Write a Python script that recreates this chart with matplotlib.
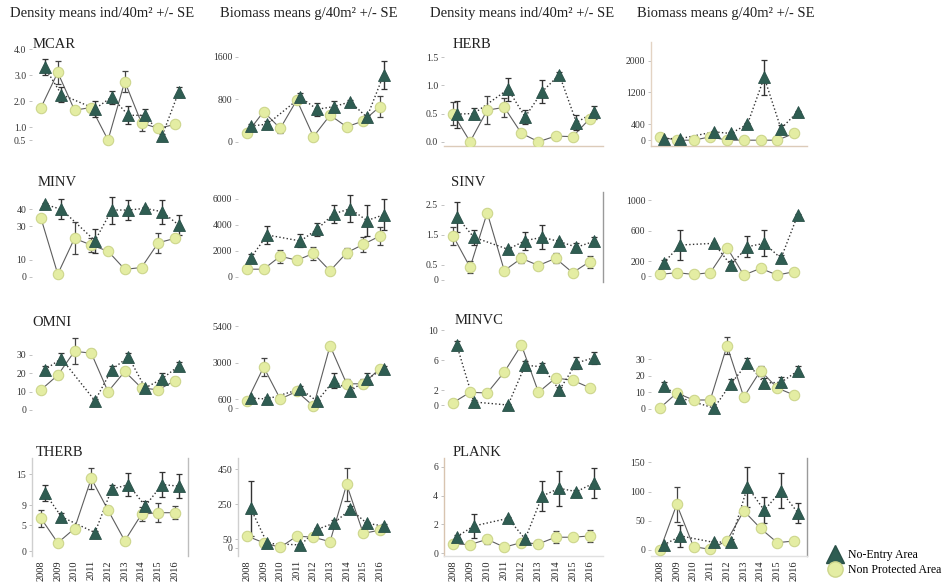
import matplotlib as mpl
import matplotlib.pyplot as plt
import numpy as np
from matplotlib.lines import Line2D

mpl.rcParams["font.family"] = ["Liberation Serif", "DejaVu Serif"]

nan = np.nan
years = [2008, 2009, 2010, 2011, 2012, 2013, 2014, 2015, 2016]

# ---- density (ind/40m2) and biomass (g/40m2), mean and SE per year ----
# NE = No-Entry Area, NP = Non Protected Area (no NE sampling in 2010)
mcar_d_ne = [3.3, 2.25, nan, 1.7, 2.15, 1.45, 1.45, 0.65, 2.35]
mcar_d_ne_se = [0.3, 0.3, nan, 0.3, 0.25, 0.35, 0.25, 0.1, 0.2]
mcar_d_np = [1.75, 3.1, 1.65, 1.75, 0.5, 2.75, 1.15, 0.95, 1.1]
mcar_d_np_se = [0.05, 0.45, 0.05, 0.1, 0.05, 0.4, 0.3, 0.05, 0.05]

mcar_b_ne = [295, 330, nan, 835, 610, 660, 750, 460, 1255]
mcar_b_ne_se = [40, 60, nan, 80, 120, 100, 30, 40, 270]
mcar_b_np = [160, 565, 250, 785, 95, 500, 280, 390, 660]
mcar_b_np_se = [30, 60, 80, 60, 20, 60, 30, 40, 200]

herb_d_ne = [0.49, 0.50, nan, 0.93, 0.44, 0.89, 1.19, 0.34, 0.52]
herb_d_ne_se = [0.24, 0.1, nan, 0.2, 0.13, 0.2, 0.05, 0.14, 0.12]
herb_d_np = [0.50, 0.0, 0.56, 0.61, 0.15, 0.0, 0.10, 0.09, 0.41]
herb_d_np_se = [0.2, 0.0, 0.25, 0.17, 0.03, 0.0, 0.03, 0.02, 0.05]

herb_b_ne = [40, 40, nan, 210, 170, 400, 1580, 290, 715]
herb_b_ne_se = [10, 10, nan, 30, 40, 30, 440, 100, 30]
herb_b_np = [85, 0, 0, 85, 0, 0, 0, 0, 170]
herb_b_np_se = [20, 0, 0, 20, 0, 0, 0, 0, 20]

minv_d_ne = [43, 40, nan, 21.4, 39.6, 39.6, 40.6, 38.6, 30.7]
minv_d_ne_se = [1, 6, nan, 7, 8, 6, 1, 7, 6]
minv_d_np = [34.7, 1.6, 22.8, 18.8, 15.2, 4.4, 5.5, 20.2, 22.8]
minv_d_np_se = [1, 1, 9.5, 4, 1, 1, 1, 6, 1]

minv_b_ne = [1470, 3230, nan, 2770, 3670, 4860, 5250, 4340, 4780]
minv_b_ne_se = [300, 700, nan, 500, 500, 700, 1050, 1200, 1200]
minv_b_np = [600, 600, 1600, 1290, 1810, 470, 1860, 2510, 3150]
minv_b_np_se = [100, 50, 500, 300, 500, 50, 400, 600, 700]

sinv_d_ne = [2.11, 1.42, nan, 1.02, 1.31, 1.42, 1.28, 1.09, 1.28]
sinv_d_ne_se = [0.5, 0.25, nan, 0.05, 0.3, 0.4, 0.05, 0.15, 0.15]
sinv_d_np = [1.47, 0.42, 2.24, 0.31, 0.72, 0.48, 0.72, 0.24, 0.61]
sinv_d_np_se = [0.3, 0.2, 0.0, 0.05, 0.17, 0.05, 0.17, 0.05, 0.2]

sinv_b_ne = [178, 410, nan, 432, 148, 388, 432, 235, 803]
sinv_b_ne_se = [40, 200, nan, 10, 50, 140, 170, 40, 10]
sinv_b_np = [25, 47, 25, 47, 375, 16, 104, 16, 60]
sinv_b_np_se = [5, 5, 5, 5, 10, 5, 10, 5, 5]

omni_d_ne = [22, 28, nan, 5, 22, 29, 12, 17, 24]
omni_d_ne_se = [2, 3, nan, 1, 2, 2, 1, 3, 2]
omni_d_np = [11, 19, 32, 31, 10, 21, 12, 11, 16]
omni_d_np_se = [1, 2, 7, 2, 1, 2, 2, 2, 2]

omni_b_ne = [660, 600, nan, 1250, 460, 1800, 1120, 1900, 2600]
omni_b_ne_se = [100, 100, nan, 200, 100, 500, 300, 400, 200]
omni_b_np = [460, 2700, 600, 1100, 130, 4100, 1600, 1600, 2600]
omni_b_np_se = [50, 600, 100, 200, 50, 200, 300, 300, 200]

minvc_d_ne = [8, 0.4, nan, 0, 5.3, 5.1, 2, 5.6, 6.3]
minvc_d_ne_se = [0.5, 0.3, nan, 0.1, 0.6, 0.5, 0.4, 0.8, 0.8]
minvc_d_np = [0.3, 1.7, 1.6, 4.4, 8, 1.7, 3.6, 3.3, 2.3]
minvc_d_np_se = [0.1, 0.3, 0.3, 0.5, 0.5, 0.3, 0.5, 0.5, 0.4]

minvc_b_ne = [14, 6.6, nan, 0.6, 15, 27.6, 15.6, 16, 22.8]
minvc_b_ne_se = [2, 2, nan, 0.5, 3, 3, 3, 3, 3]
minvc_b_np = [0.6, 9.6, 5.4, 5.4, 38, 7.2, 23, 12.6, 8.4]
minvc_b_np_se = [0.5, 2, 1, 1, 5, 2, 3, 2, 2]

therb_d_ne = [11.4, 6.7, nan, 3.6, 12.1, 13.0, 8.8, 13.0, 12.7]
therb_d_ne_se = [1.6, 0.8, nan, 0.3, 0.8, 2.3, 1.0, 2.4, 2.3]
therb_d_np = [6.4, 1.6, 4.4, 14.2, 8.0, 2.0, 7.2, 7.5, 7.5]
therb_d_np_se = [1.6, 0.2, 0.2, 2.0, 0.8, 0.5, 1.4, 1.8, 1.3]

therb_b_ne = [225, 25, nan, 16, 105, 140, 220, 140, 124]
therb_b_ne_se = [155, 10, nan, 5, 10, 20, 20, 10, 10]
therb_b_np = [67, 29, 2, 67, 60, 35, 362, 82, 101]
therb_b_np_se = [5, 5, 2, 5, 5, 5, 96, 5, 5]

plank_d_ne = [1.15, 1.89, nan, 2.42, 0.99, 3.97, 4.5, 4.27, 4.85]
plank_d_ne_se = [0.1, 0.83, nan, 0.1, 0.1, 1.04, 1.2, 0.1, 1.05]
plank_d_np = [0.65, 0.6, 0.97, 0.42, 0.74, 0.65, 1.11, 1.11, 1.2]
plank_d_np_se = [0.05, 0.05, 0.3, 0.05, 0.1, 0.3, 0.4, 0.1, 0.4]

plank_b_ne = [8.6, 24, nan, 13, 14.3, 108, 68, 101, 64]
plank_b_ne_se = [2, 19, nan, 2, 5, 34, 22, 30, 17]
plank_b_np = [0, 78, 5.7, 1.1, 16, 67, 37, 12.5, 15.4]
plank_b_np_se = [0, 30, 1, 0.5, 2, 3, 3, 2, 2]

col_titles = ["Density means ind/40m² +/- SE", "Biomass means g/40m² +/- SE",
              "Density means ind/40m² +/- SE", "Biomass means g/40m² +/- SE"]

NE_FILL = "#2f5d52"
NP_FILL = "#e4eda3"

W, H = 952, 583
fig = plt.figure(figsize=(W / 100, H / 100), dpi=100)

# panel frames in pixels: columns (left, width), rows (top, bottom)
cols = [(31.8, 155.8), (237.9, 154.4), (443.6, 159.0), (650.8, 155.8)]
rows = [(42, 146), (192, 282), (322, 414), (458, 556)]


def add_panel(r, c):
    left, width = cols[c]
    top, bottom = rows[r]
    return fig.add_axes([left / W, 1 - bottom / H, width / W, (bottom - top) / H])


def draw(ax, ne, ne_se, npa, np_se, ylim, ticks, labels):
    x = np.array(years, float)
    ne = np.array(ne, float)
    ne_se = np.array(ne_se, float)
    m = ~np.isnan(ne)
    xe = x[m] + 0.22
    ax.plot(x, npa, "-", color="#5e5e5e", lw=0.8, zorder=1)
    ax.plot(xe, ne[m], ":", color="#333333", lw=1.0, zorder=1)
    ax.errorbar(x, npa, yerr=np_se, fmt="none", ecolor="#444444",
                elinewidth=0.9, capsize=2, capthick=0.9, zorder=2)
    ax.errorbar(xe, ne[m], yerr=ne_se[m], fmt="none", ecolor="#333333",
                elinewidth=1.0, capsize=2, capthick=0.9, zorder=2)
    ax.plot(x, npa, "o", ms=7.5, mfc=NP_FILL, mec="#cdd68c", mew=0.8, zorder=3)
    ax.plot(xe, ne[m], "^", ms=9, mfc=NE_FILL, mec="#2a5048", mew=0.6, zorder=4)
    ax.set_xlim(2007.45, 2016.75)
    ax.set_ylim(*ylim)
    ax.set_yticks(ticks)
    ax.set_yticklabels(labels)
    ax.tick_params(axis="y", labelsize=7, length=2, width=0.5, color="#aaaaaa",
                   labelcolor="#333333", pad=2)
    for s in ax.spines.values():
        s.set_visible(False)


panels = [
    (0, 0, "MCAR", (mcar_d_ne, mcar_d_ne_se, mcar_d_np, mcar_d_np_se), (0.27, 4.27),
     [0.5, 1, 2, 3, 4], ["0.5", "1.0", "2.0", "3.0", "4.0"]),
    (0, 1, None, (mcar_b_ne, mcar_b_ne_se, mcar_b_np, mcar_b_np_se), (-81, 1877),
     [0, 800, 1600], ["0", "800", "1600"]),
    (0, 2, "HERB", (herb_d_ne, herb_d_ne_se, herb_d_np, herb_d_np_se), (-0.076, 1.77),
     [0, 0.5, 1, 1.5], ["0.0", "0.5", "1.0", "1.5"]),
    (0, 3, None, (herb_b_ne, herb_b_ne_se, herb_b_np, herb_b_np_se), (-146, 2470),
     [0, 400, 1200, 2000], ["0", "400", "1200", "2000"]),
    (1, 0, "MINV", (minv_d_ne, minv_d_ne_se, minv_d_np, minv_d_np_se), (-3.1, 50.3),
     [0, 10, 30, 40], ["0", "10", "30", "40"]),
    (1, 1, None, (minv_b_ne, minv_b_ne_se, minv_b_np, minv_b_np_se), (-385, 6538),
     [0, 2000, 4000, 6000], ["0", "2000", "4000", "6000"]),
    (1, 2, "SINV", (sinv_d_ne, sinv_d_ne_se, sinv_d_np, sinv_d_np_se), (-0.07, 2.93),
     [0, 0.5, 1.5, 2.5], ["0", "0.5", "1.5", "2.5"]),
    (1, 3, None, (sinv_b_ne, sinv_b_ne_se, sinv_b_np, sinv_b_np_se), (-75, 1105),
     [0, 200, 600, 1000], ["0", "200", "600", "1000"]),
    (2, 0, "OMNI", (omni_d_ne, omni_d_ne_se, omni_d_np, omni_d_np_se), (-2.2, 48),
     [0, 10, 20, 30], ["0", "10", "20", "30"]),
    (2, 1, None, (omni_b_ne, omni_b_ne_se, omni_b_np, omni_b_np_se), (-386, 5663),
     [0, 600, 3000, 5400], ["0", "600", "3000", "5400"]),
    (2, 2, "MINVC", (minvc_d_ne, minvc_d_ne_se, minvc_d_np, minvc_d_np_se), (-1.2, 11.07),
     [0, 2, 6, 10], ["0", "2", "6", "10"]),
    (2, 3, None, (minvc_b_ne, minvc_b_ne_se, minvc_b_np, minvc_b_np_se), (-3, 52.2),
     [0, 10, 20, 30], ["0", "10", "20", "30"]),
    (3, 0, "THERB", (therb_d_ne, therb_d_ne_se, therb_d_np, therb_d_np_se), (-0.97, 18.2),
     [0, 5, 9, 15], ["0", "5", "9", "15"]),
    (3, 1, None, (therb_b_ne, therb_b_ne_se, therb_b_np, therb_b_np_se), (-47, 513),
     [0, 50, 250, 450], ["0", "50", "250", "450"]),
    (3, 2, "PLANK", (plank_d_ne, plank_d_ne_se, plank_d_np, plank_d_np_se), (-0.19, 6.6),
     [0, 2, 4, 6], ["0", "2", "4", "6"]),
    (3, 3, None, (plank_b_ne, plank_b_ne_se, plank_b_np, plank_b_np_se), (-10.3, 157.4),
     [0, 50, 100, 150], ["0", "50", "100", "150"]),
]

# faint frame lines that some panels keep
frames = {
    (0, 2): {"bottom": "#dccbb9"},
    (0, 3): {"left": "#e3d3c3", "bottom": "#dccbb9"},
    (1, 2): {"right": "#9a9a9a"},
    (3, 0): {"left": "#cfcfcf", "right": "#bdbdbd"},
    (3, 1): {"left": "#cfcfcf"},
    (3, 2): {"left": "#d8c4b0", "bottom": "#e0e0e0"},
    (3, 3): {"right": "#9a9a9a", "bottom": "#e0e0e0"},
}

name_pos = {(0, 0): (33, 44), (0, 2): (453, 44), (1, 0): (38, 183), (1, 2): (451, 183),
            (2, 0): (32, 322), (2, 2): (455, 320), (3, 0): (36, 453), (3, 2): (453, 453)}

for r, c, name, series, ylim, ticks, labels in panels:
    ax = add_panel(r, c)
    draw(ax, *series, ylim, ticks, labels)
    for side, color in frames.get((r, c), {}).items():
        ax.spines[side].set_visible(True)
        ax.spines[side].set_color(color)
        ax.spines[side].set_linewidth(1.0)
    if r == 3:
        ax.set_xticks(years)
        ax.set_xticklabels([str(y) for y in years], rotation=90, fontsize=7.5)
        ax.tick_params(axis="x", length=0, pad=3, labelcolor="#222222")
    else:
        ax.set_xticks([])
    if name:
        px, py = name_pos[(r, c)]
        fig.text(px / W, 1 - py / H, name, fontsize=10.5, ha="left", va="center",
                 color="#222222")

for x0, t in zip([10, 220, 430, 637], col_titles):
    fig.text(x0 / W, 1 - 14 / H, t, fontsize=10.5, ha="left", va="center",
             color="#222222")

handles = [
    Line2D([], [], ls="none", marker="^", ms=13, mfc=NE_FILL, mec="#2a5048"),
    Line2D([], [], ls="none", marker="o", ms=11, mfc=NP_FILL, mec="#cdd68c"),
]
fig.legend(handles, ["No-Entry Area", "Non Protected Area"], loc="lower left",
           bbox_to_anchor=(816 / W, 0.0), frameon=False, fontsize=8.5,
           handletextpad=0.1, labelspacing=0.25, borderaxespad=0.2)

fig.savefig("out.png", dpi=100, facecolor="w")
